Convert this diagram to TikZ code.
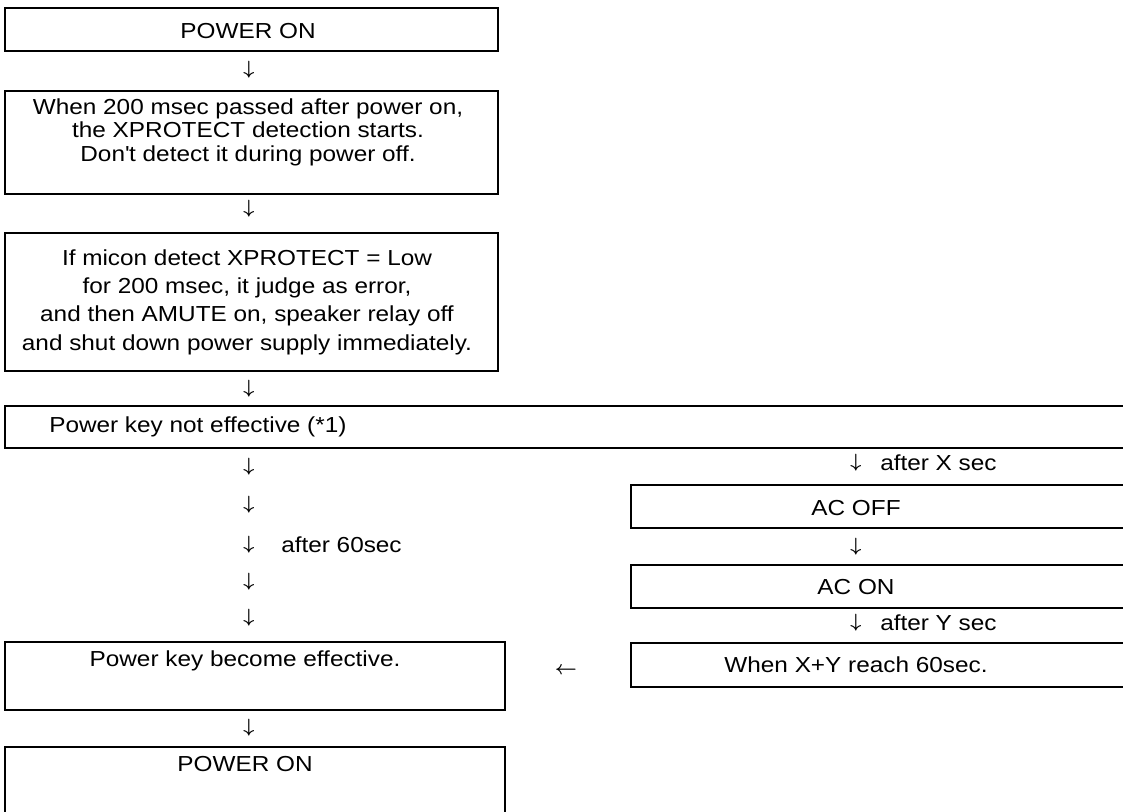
\documentclass[tikz,border=0pt]{standalone}
\usepackage{fontspec}
\setmainfont{Liberation Sans}[FakeStretch=1.12]
\newcommand{\fs}{\fontsize{16.3pt}{17.6pt}\selectfont}
\newcommand{\fsw}{\fontsize{16.3pt}{21.2pt}\selectfont}
\newcommand{\arfs}{\fontsize{15pt}{16pt}\selectfont\boldmath}
\begin{document}
\begin{tikzpicture}[x=0.75pt,y=-0.75pt,
  box/.style={draw, line width=1.4pt, inner sep=0pt, minimum width=#1},
  txt/.style={inner sep=0pt, align=center, font=\fs},
  arr/.style={inner sep=0pt, font=\arfs}]
\useasboundingbox (0,0) rectangle (1123,811);
\clip (0,0) rectangle (1123,811);
% boxes
\node[box=369.75pt, minimum height=32.25pt] (b1) at (251.5,29.5) {};
\node[box=369.75pt, minimum height=77.25pt] (b2) at (251.5,142.5) {};
\node[box=369.75pt, minimum height=103.5pt] (b3) at (251.5,302) {};
\node[box=847.5pt, minimum height=31.5pt] (b4) at (570,427) {};
\node[box=378pt, minimum height=32.25pt] (b5) at (883,506.5) {};
\node[box=378pt, minimum height=32.25pt] (b6) at (883,586.5) {};
\node[box=378pt, minimum height=33pt] (b7) at (883,665) {};
\node[box=375pt, minimum height=51pt] (b8) at (255,676) {};
\node[box=375pt, minimum height=62.25pt] (b9) at (255,788.5) {};
% texts
\node[txt] (t1) at (248,31) {POWER ON};
\node[txt] (t2) at (248,132) {When 200 msec passed after power on,\\the XPROTECT detection starts.\\Don\textquotesingle t detect it during power off.};
\node[txt, font=\fsw] (t3) at (247,302) {If micon detect XPROTECT = Low\\for 200 msec, it judge as error,\\and then AMUTE on, speaker relay off\\and shut down power supply immediately.};
\node[txt, anchor=west] (t4) at (49,427) {Power key not effective (*1)};
\node[txt] (t5) at (856,508) {AC OFF};
\node[txt] (t6) at (856,587) {AC ON};
\node[txt] (t7) at (856,665) {When X+Y reach 60sec.};
\node[txt] (t8) at (245,661) {Power key become effective.};
\node[txt] (t9) at (245,764) {POWER ON};
% arrows (glyphs)
\node[arr] (a1) at (249,70) {$\downarrow$};
\node[arr] (a2) at (249,209) {$\downarrow$};
\node[arr] (a3) at (249,389) {$\downarrow$};
\node[arr] (l1) at (249,467) {$\downarrow$};
\node[arr] (l2) at (249,505) {$\downarrow$};
\node[arr] (l3) at (249,545) {$\downarrow$};
\node[arr] (l4) at (249,582) {$\downarrow$};
\node[arr] (l5) at (249,618) {$\downarrow$};
\node[arr] (a4) at (249,728) {$\downarrow$};
\node[txt, anchor=west] (n60) at (281,545) {after 60sec};
\node[arr] (r1) at (856,463) {$\downarrow$};
\node[txt, anchor=west] (nx) at (880,463) {after X sec};
\node[arr] (r2) at (856,547) {$\downarrow$};
\node[arr] (r3) at (856,623) {$\downarrow$};
\node[txt, anchor=west] (ny) at (880,623) {after Y sec};
\node[arr] (la) at (566,671) {$\leftarrow$};
\end{tikzpicture}
\end{document}
